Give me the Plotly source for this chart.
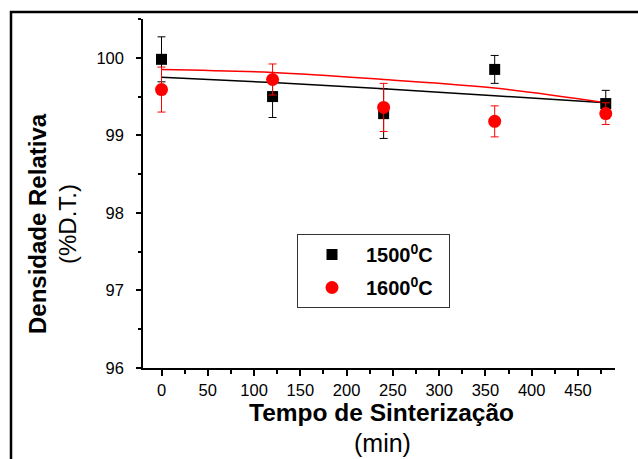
import plotly.graph_objects as go

# ---- data ----
time_min = [0, 120, 240, 360, 480]

dens_1500 = [99.98, 99.50, 99.28, 99.85, 99.41]
err_1500 = [0.29, 0.27, 0.32, 0.18, 0.17]

dens_1600 = [99.59, 99.72, 99.36, 99.18, 99.28]
err_1600 = [0.29, 0.20, 0.31, 0.20, 0.14]

fit_x = [0, 120, 240, 360, 480]
fit_1500 = [99.75, 99.68, 99.60, 99.51, 99.42]
fit_1600 = [99.85, 99.81, 99.72, 99.61, 99.42]

name_1500 = "1500<sup>0</sup>C\u00a0\u00a0"
name_1600 = "1600<sup>0</sup>C\u00a0\u00a0"

x_ticks = [0, 50, 100, 150, 200, 250, 300, 350, 400, 450]
y_ticks = [96, 97, 98, 99, 100]

FONT = "Arial, 'Liberation Sans', sans-serif"

fig = go.Figure()

fig.add_trace(go.Scatter(x=fit_x, y=fit_1500, mode="lines", line=dict(color="black", width=1.5, shape="spline"),
                         showlegend=False, hoverinfo="skip"))
fig.add_trace(go.Scatter(x=fit_x, y=fit_1600, mode="lines", line=dict(color="#ff0000", width=1.5, shape="spline"),
                         showlegend=False, hoverinfo="skip"))

fig.add_trace(go.Scatter(
    x=time_min, y=dens_1500, mode="markers", name=name_1500, legendgroup="a",
    marker=dict(symbol="square", size=11, color="black"),
    error_y=dict(type="data", array=err_1500, color="black", thickness=1, width=4),
))
fig.add_trace(go.Scatter(
    x=time_min, y=dens_1600, mode="markers", name=name_1600, legendgroup="b",
    marker=dict(symbol="circle", size=13, color="#ff0000"),
    error_y=dict(type="data", array=err_1600, color="#ff0000", thickness=1, width=4),
))

W, H = 638, 459
ml, mr, mt, mb = 143, 23, 19, 91
pw = W - ml - mr
ph = H - mt - mb

def px_x(p):
    return (p - ml) / pw

def px_y(p):
    return 1 - (p - mt) / ph

fig.update_layout(
    width=W, height=H,
    margin=dict(l=ml, r=mr, t=mt, b=mb, pad=0),
    paper_bgcolor="white", plot_bgcolor="white",
    font=dict(family=FONT, color="black", size=16),
    showlegend=True,
    legend=dict(
        x=px_x(297), y=px_y(234), xanchor="left", yanchor="top",
        bordercolor="#333333", borderwidth=1, bgcolor="white",
        font=dict(family=FONT, size=20, color="black", weight="bold"),
        tracegroupgap=4, itemwidth=58,
    ),
    xaxis=dict(
        range=[-20, 490], tickmode="array", tickvals=x_ticks,
        showgrid=False, zeroline=False, showline=True, linecolor="black", linewidth=1.5,
        ticks="outside", ticklen=6, tickwidth=1.5, tickcolor="black",
        tickfont=dict(family=FONT, size=16.5, color="black"),
        minor=dict(dtick=25, tick0=0, ticks="outside", ticklen=4, tickwidth=1.5, tickcolor="black", showgrid=False),
    ),
    yaxis=dict(
        range=[96, 100.5], tickmode="array", tickvals=y_ticks,
        showgrid=False, zeroline=False, showline=True, linecolor="black", linewidth=1.5,
        ticks="outside", ticklen=5, tickwidth=1.5, tickcolor="black", ticklabelstandoff=9,
        tickfont=dict(family=FONT, size=16.5, color="black"),
        minor=dict(dtick=0.5, tick0=96, ticks="outside", ticklen=3, tickwidth=1.5, tickcolor="black", showgrid=False),
    ),
)

# outer frame
fig.add_shape(type="rect", xref="paper", yref="paper",
              x0=px_x(11), y0=px_y(470), x1=px_x(650), y1=px_y(12),
              line=dict(color="black", width=2.5), fillcolor="rgba(0,0,0,0)", layer="below")

# axis titles
fig.add_annotation(text="<b>Tempo de Sinterização</b>", xref="paper", yref="paper",
                   x=px_x(381), y=px_y(412), showarrow=False, xanchor="center", yanchor="middle",
                   font=dict(family=FONT, size=24.5, color="black"))
fig.add_annotation(text="(min)", xref="paper", yref="paper",
                   x=px_x(382), y=px_y(443), showarrow=False, xanchor="center", yanchor="middle",
                   font=dict(family=FONT, size=25, color="black"))
fig.add_annotation(text="<b>Densidade Relativa</b>", xref="paper", yref="paper",
                   x=px_x(37), y=px_y(224), showarrow=False, xanchor="center", yanchor="middle", textangle=-90,
                   font=dict(family=FONT, size=24, color="black"))
fig.add_annotation(text="(%D.T.)", xref="paper", yref="paper",
                   x=px_x(67), y=px_y(224), showarrow=False, xanchor="center", yanchor="middle", textangle=-90,
                   font=dict(family=FONT, size=24, color="black"))

fig.write_html("out.html", config={"displayModeBar": False},
               post_script="document.body.style.margin='0px';document.body.style.padding='0px';")
